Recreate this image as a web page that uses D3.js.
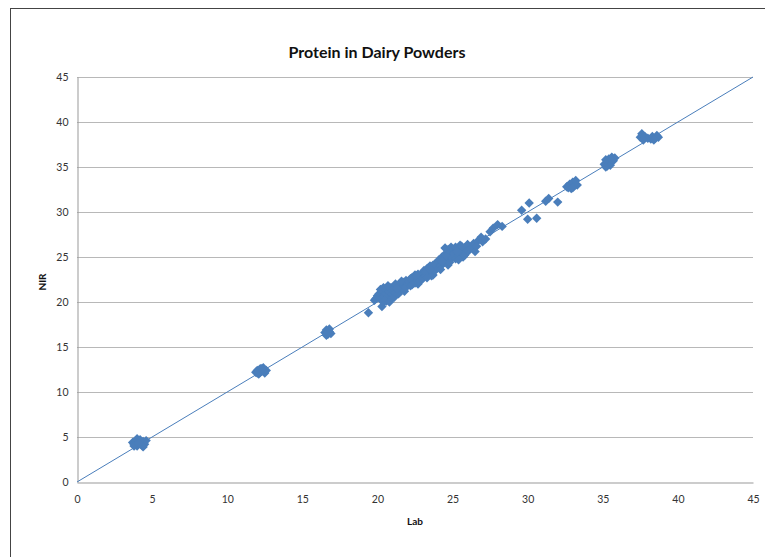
<!DOCTYPE html>
<html>
<head>
<meta charset="utf-8">
<script src="https://cdn.jsdelivr.net/npm/d3@7"></script>
<style>
  body { margin: 0; background: #fff; }
  svg { display: block; }
  .tick text { font-family: Lato, "Liberation Sans", sans-serif; font-size: 10.5px; fill: #333; }
</style>
</head>
<body>
<svg id="chart" width="765" height="557"></svg>
<script>
// Readings (Lab, NIR) grouped by sample cluster
const lowCluster = [[3.7,4.4],[3.8,4.2],[3.9,4.6],[4.0,4.0],[4.1,4.5],[4.2,4.3],[4.3,4.1],[4.4,4.5],[4.5,4.2],[4.6,4.6],[3.8,4.0],[4.0,4.8],[4.2,4.7],[4.4,3.9],[4.1,4.3]];
const cluster12 = [[11.9,12.2],[12.0,12.4],[12.1,12.0],[12.2,12.6],[12.3,12.3],[12.4,12.5],[12.5,12.1],[12.6,12.4],[12.2,12.2],[12.4,12.7],[12.0,12.1],[12.3,12.6]];
const cluster17 = [[16.5,16.6],[16.6,16.9],[16.7,16.4],[16.8,16.7],[16.9,16.5],[16.6,16.3],[16.8,17.0],[16.7,16.6]];
const mainCluster = [
  [19.4,18.8],[20.3,19.5],[19.8,20.2],[20.0,20.7],[20.4,20.0],[20.7,20.3],
  [19.9,20.4],[20.1,20.9],[20.2,20.3],[20.3,21.2],[20.4,20.6],[20.5,21.0],[20.6,20.1],[20.6,21.4],[20.7,20.7],[20.8,21.1],
  [20.9,20.4],[20.9,21.6],[21.0,20.9],[21.0,21.3],[20.2,21.4],[20.5,20.2],[20.8,20.0],[21.1,20.5],[20.4,21.6],[20.7,21.8],
  [21.1,21.5],[21.2,21.0],[21.3,21.8],[21.4,21.3],[21.5,22.0],[21.6,21.5],[21.7,22.2],[21.8,21.7],[21.9,22.4],[21.2,22.0],
  [21.4,20.9],[21.6,22.3],[21.8,21.2],[22.0,22.0],[21.3,21.5],[21.9,21.6],
  [22.1,22.3],[22.2,21.8],[22.3,22.7],[22.4,22.2],[22.5,23.0],[22.6,22.5],[22.7,22.0],[22.8,22.9],[22.9,22.4],[23.0,23.2],
  [22.2,22.6],[22.5,22.1],[22.7,23.1],[22.9,22.8],[22.3,21.9],[22.6,22.9],[22.8,22.3],[23.0,22.6],
  [23.1,23.5],[23.2,22.9],[23.3,23.7],[23.4,23.2],[23.5,24.0],[23.6,23.4],[23.7,23.0],[23.8,24.2],[23.9,23.6],[24.0,24.4],
  [23.2,23.3],[23.4,23.8],[23.6,22.9],[23.8,23.5],[24.0,23.8],[23.3,22.7],[23.7,24.1],[23.5,23.6],
  [24.1,24.7],[24.2,24.0],[24.3,25.0],[24.4,24.3],[24.5,25.3],[24.6,24.6],[24.7,24.1],[24.8,25.5],[24.9,24.8],[25.0,25.6],
  [24.2,23.6],[24.4,24.9],[24.6,25.1],[24.8,24.4],[25.0,24.9],[24.3,24.5],[24.7,25.8],[24.5,26.0],[24.9,26.1],
  [25.1,25.4],[25.2,24.8],[25.3,25.9],[25.4,25.2],[25.5,26.3],[25.6,25.5],[25.7,25.0],[25.8,26.0],[25.9,25.4],[26.0,26.4],
  [25.2,26.1],[25.4,24.7],[25.6,26.2],[25.8,25.2],[26.0,25.7],[25.3,25.6],
  [26.2,25.9],[26.4,26.5],[26.5,25.6],[26.7,26.8],[26.9,27.2],[27.0,26.7],[26.6,26.2],[27.2,27.0],[27.5,27.8],[27.7,28.2],
  [28.0,28.6],[28.3,28.4]
];
const upperScatter = [[29.6,30.2],[30.1,31.0],[30.0,29.2],[30.6,29.3],[31.2,31.2],[31.4,31.5],[32.0,31.1]];
const cluster33 = [[32.6,32.8],[32.8,33.1],[32.9,32.6],[33.0,33.3],[33.1,32.9],[33.2,33.5],[33.3,33.0],[32.7,32.7],[33.0,32.7]];
const cluster35 = [[35.1,35.3],[35.2,35.8],[35.3,35.1],[35.4,35.9],[35.5,35.5],[35.6,36.1],[35.7,35.7],[35.8,36.0],[35.3,35.6],[35.5,35.2],[35.2,35.0],[35.6,35.8]];
const cluster38 = [[37.5,38.3],[37.6,38.7],[37.8,38.4],[38.0,38.2],[38.2,38.1],[38.3,38.4],[38.5,38.2],[38.6,38.5],[38.7,38.3],[37.7,38.0],[38.4,38.0]];

// 1:1 reference line
const identityLine = [[0, 0], [45, 45]];
const tickValues = [0, 5, 10, 15, 20, 25, 30, 35, 40, 45];

const points = [].concat(lowCluster, cluster12, cluster17, mainCluster, upperScatter, cluster33, cluster35, cluster38);

const blue = '#4a7ebb';
const font = 'Lato, "Liberation Sans", sans-serif';
const svg = d3.select('#chart');

// Chart border
svg.append('rect')
  .attr('x', 10.5).attr('y', 8.5)
  .attr('width', 780).attr('height', 580)
  .attr('fill', 'none')
  .attr('stroke', '#444')
  .attr('stroke-width', 1);

const x = d3.scaleLinear().domain([0, 45]).range([77, 753]);
const y = d3.scaleLinear().domain([0, 45]).range([482, 77]);

// Horizontal gridlines
svg.append('g')
  .selectAll('line')
  .data(tickValues.slice(1))
  .join('line')
  .attr('x1', x(0)).attr('x2', x(45))
  .attr('y1', (d) => Math.round(y(d)) + 0.5)
  .attr('y2', (d) => Math.round(y(d)) + 0.5)
  .attr('stroke', '#b8b8b8');

// Axes
const xAxis = svg.append('g')
  .attr('transform', `translate(0,${Math.round(y(0)) + 0.5})`)
  .call(d3.axisBottom(x).tickValues(tickValues).tickSize(0).tickPadding(13));
xAxis.select('.domain').attr('stroke', '#999');

const yAxis = svg.append('g')
  .attr('transform', `translate(${Math.round(x(0)) + 0.5},0)`)
  .call(d3.axisLeft(y).tickValues(tickValues).tickSize(0).tickPadding(9));
yAxis.select('.domain').attr('stroke', '#999');

// Identity line
svg.append('path')
  .datum(identityLine)
  .attr('d', d3.line().x((d) => x(d[0])).y((d) => y(d[1])))
  .attr('fill', 'none')
  .attr('stroke', blue)
  .attr('stroke-width', 1);

// Diamond markers (square turned 45 degrees, like Excel)
const diamond = d3.symbol().type(d3.symbolSquare).size(44);
svg.append('g')
  .selectAll('path')
  .data(points)
  .join('path')
  .attr('transform', (d) => `translate(${x(d[0])},${y(d[1])}) rotate(45)`)
  .attr('d', diamond)
  .attr('fill', blue);

// Title and axis labels
svg.append('text')
  .attr('x', 377).attr('y', 58)
  .attr('text-anchor', 'middle')
  .attr('font-family', font)
  .attr('font-weight', 'bold')
  .attr('font-size', 16)
  .attr('fill', '#111')
  .text('Protein in Dairy Powders');

svg.append('text')
  .attr('x', 415).attr('y', 525)
  .attr('text-anchor', 'middle')
  .attr('font-family', font)
  .attr('font-weight', 'bold')
  .attr('font-size', 10)
  .attr('fill', '#111')
  .text('Lab');

svg.append('text')
  .attr('transform', 'translate(46,282) rotate(-90)')
  .attr('text-anchor', 'middle')
  .attr('font-family', font)
  .attr('font-weight', 'bold')
  .attr('font-size', 10)
  .attr('fill', '#111')
  .text('NIR');
</script>
</body>
</html>
